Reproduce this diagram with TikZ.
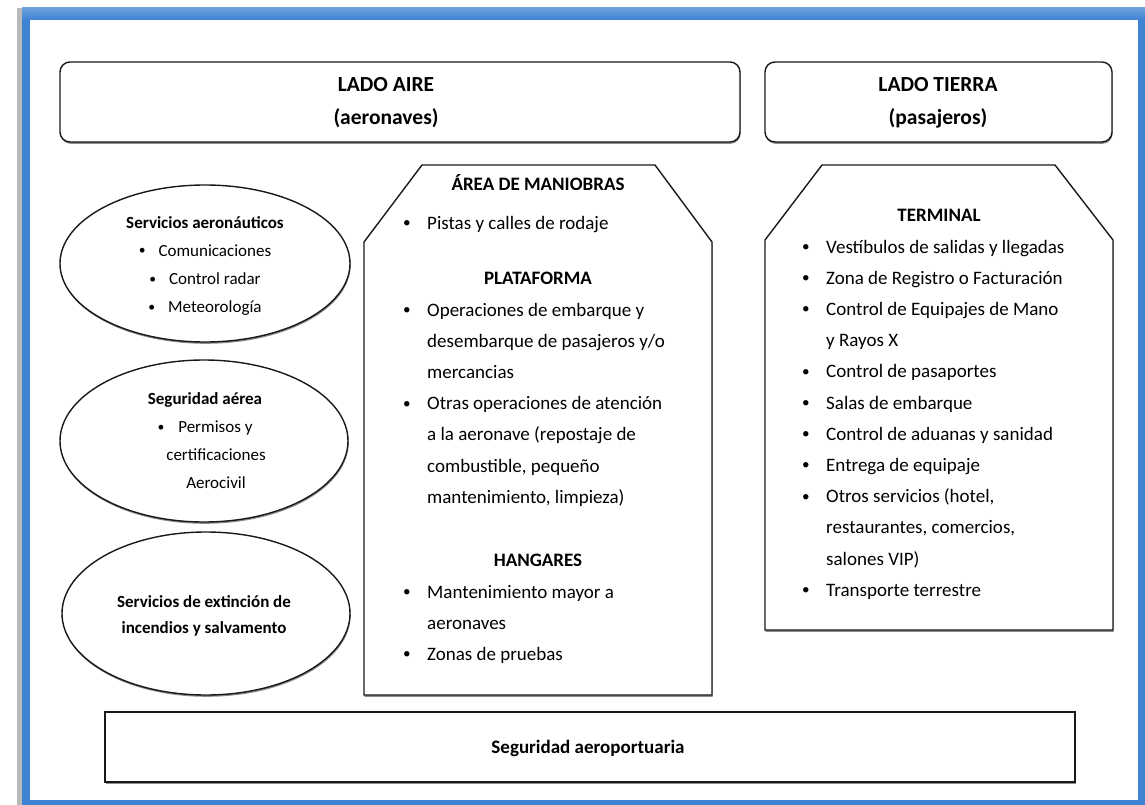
\documentclass[tikz,border=0pt]{standalone}
\usepackage{fontspec}
\setmainfont{Carlito}
\usetikzlibrary{shapes.geometric,shadows}
\definecolor{frameblue}{RGB}{62,130,212}
\definecolor{framelight}{RGB}{110,160,222}
\definecolor{ink}{RGB}{25,25,25}
\newcommand{\smb}{\raisebox{0.08em}{\scalebox{0.8}{\textbullet}}}
\newcommand{\bul}{\makebox[24pt][l]{\smb}}
\newcommand{\ind}{\hspace*{24pt}}
\begin{document}
\begin{tikzpicture}[x=1pt,y=-1pt,
  shad/.style={drop shadow={shadow xshift=0.6pt,shadow yshift=-1.8pt,fill=black,opacity=0.45}},
  boxline/.style={draw=ink,line width=1.4pt,fill=white,shad},
  hd/.style={inner sep=0pt,anchor=base,font=\fontsize{19}{31.2}\selectfont\bfseries},
  big/.style={inner sep=0pt,anchor=base,align=center,font=\fontsize{21.5}{33}\selectfont\bfseries},
  lst/.style={inner sep=0pt,anchor=base west,align=left,font=\fontsize{19}{31.2}\selectfont},
  elltxt/.style={inner sep=0pt,anchor=base,align=center},
  ell/.style={ellipse,boxline,inner sep=0pt}]
\useasboundingbox (0,0) rectangle (1145,805);
% frame
\fill[gray!55] (17,8) rectangle (1145,805);
\fill[frameblue] (22,8) rectangle (1145,805);
\shade[top color=framelight,bottom color=frameblue] (22,8) rectangle (1145,20);
\fill[white] (30,20) rectangle (1138,800);
% top boxes
\node[boxline,rounded corners=10pt,minimum width=680pt,minimum height=80pt,inner sep=0pt] (aire) at (400,102) {};
\node[boxline,rounded corners=10pt,minimum width=347pt,minimum height=80pt,inner sep=0pt] (tierra) at (938.5,102) {};
% multi-line nodes: base anchor is the baseline of the last line
\node[big] (aireT) at (386,125) {LADO AIRE\\(aeronaves)};
\node[big] (tierraT) at (938,125) {LADO TIERRA\\(pasajeros)};
% ellipses
\node[ell,minimum width=290pt,minimum height=157pt] (e1) at (205,263.5) {};
\node[ell,minimum width=288pt,minimum height=162pt] (e2) at (204,441) {};
\node[ell,minimum width=288pt,minimum height=163pt] (e3) at (206,613.5) {};
\node[elltxt,font=\fontsize{17}{28.2}\selectfont] (e1T) at (205,312.6)
  {{\bfseries Servicios aeronáuticos}\\\smb\hspace{13pt}Comunicaciones\\\smb\hspace{13pt}Control radar\\\smb\hspace{13pt}Meteorología};
\node[elltxt,font=\fontsize{17}{27.7}\selectfont] (e2T) at (205,488)
  {{\bfseries Seguridad aérea}\\\smb\hspace{14pt}Permisos y\\\hspace*{22pt}certificaciones\\\hspace*{22pt}Aerocivil};
\node[elltxt,font=\fontsize{17}{26}\selectfont\bfseries] (e3T) at (204,633)
  {Servicios de extinción de\\incendios y salvamento};
% middle chamfered box
\draw[boxline] (422,165) -- (655,165) -- (712,242) -- (712,695) -- (364,695) -- (364,242) -- cycle;
\node[hd] (am) at (538,191) {ÁREA DE MANIOBRAS};
\node[lst] (amL) at (403,229) {\bul Pistas y calles de rodaje};
\node[hd] (pl) at (538,284) {PLATAFORMA};
\node[lst] (plL) at (403,503.2) {\bul Operaciones de embarque y\\\ind desembarque de pasajeros y/o\\\ind mercancias\\\bul Otras operaciones de atención\\\ind a la aeronave (repostaje de\\\ind combustible, pequeño\\\ind mantenimiento, limpieza)};
\node[hd] (hg) at (538,566) {HANGARES};
\node[lst] (hgL) at (403,660.4) {\bul Mantenimiento mayor a\\\ind aeronaves\\\bul Zonas de pruebas};
% terminal chamfered box
\draw[boxline] (822,165) -- (1055,165) -- (1113,240) -- (1113,630) -- (765,630) -- (765,240) -- cycle;
\node[hd] (tm) at (939,221) {TERMINAL};
\node[lst] (tmL) at (802,596.2) {\bul Vestíbulos de salidas y llegadas\\\bul Zona de Registro o Facturación\\\bul Control de Equipajes de Mano\\\ind y Rayos X\\\bul Control de pasaportes\\\bul Salas de embarque\\\bul Control de aduanas y sanidad\\\bul Entrega de equipaje\\\bul Otros servicios (hotel,\\\ind restaurantes, comercios,\\\ind salones VIP)\\\bul Transporte terrestre};
% bottom box
\node[boxline,minimum width=970pt,minimum height=70pt,inner sep=0pt] (seg) at (590,747) {};
\node[hd] (segT) at (588,753) {Seguridad aeroportuaria};
\end{tikzpicture}
\end{document}
